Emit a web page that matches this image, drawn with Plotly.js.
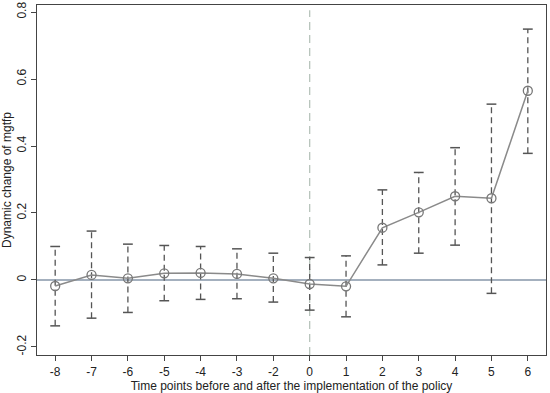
<!DOCTYPE html>
<html><head><meta charset="utf-8">
<script src="https://cdn.plot.ly/plotly-3.0.1.min.js"></script>
<style>html,body{margin:0;padding:0;background:#fff}#chart{width:550px;height:393px}</style>
</head><body><div id="chart"></div>
<script>
const periods = ['-8','-7','-6','-5','-4','-3','-2','0','1','2','3','4','5','6'];
const estimate = [-0.018, 0.015, 0.005, 0.020, 0.021, 0.018, 0.005, -0.012, -0.019, 0.156, 0.202, 0.250, 0.244, 0.565];
const ciUpper  = [0.100, 0.146, 0.107, 0.103, 0.100, 0.093, 0.080, 0.067, 0.072, 0.269, 0.321, 0.395, 0.525, 0.749];
const ciLower  = [-0.137, -0.114, -0.097, -0.062, -0.058, -0.056, -0.066, -0.090, -0.110, 0.045, 0.080, 0.104, -0.040, 0.378];
const yTicks = [-0.2, 0, 0.2, 0.4, 0.6, 0.8];
const yTickText = ['-0.2', '0', '0.2', '0.4', '0.6', '0.8'];
const policyPeriod = '0';

const segX = [], segY = [];
periods.forEach((p, i) => { segX.push(p, p, null); segY.push(ciLower[i], ciUpper[i], null); });
const capX = periods.concat(periods);
const capY = ciLower.concat(ciUpper);

const traces = [
  {x: segX, y: segY, type: 'scatter', mode: 'lines', line: {color: '#555', width: 1.3, dash: '6px,4px'}, hoverinfo: 'skip'},
  {x: capX, y: capY, type: 'scatter', mode: 'markers', marker: {symbol: 'line-ew-open', size: 7, color: '#555', line: {color: '#555', width: 1.5}}, hoverinfo: 'skip'},
  {x: periods, y: estimate, type: 'scatter', mode: 'lines+markers', line: {color: '#8a8a8a', width: 1.5},
   marker: {symbol: 'circle-open', size: 9, color: '#777', line: {color: '#777', width: 1.3}}}
];

const layout = {
  width: 550, height: 393,
  margin: {l: 37, r: 4, t: 5, b: 38},
  paper_bgcolor: '#fff', plot_bgcolor: '#fff',
  showlegend: false,
  font: {family: 'Liberation Sans, Arial, sans-serif', size: 12, color: '#222'},
  xaxis: {type: 'category', categoryorder: 'array', categoryarray: periods, range: [-0.5, periods.length - 0.5],
    showgrid: false, zeroline: false, showline: true, linecolor: '#444', linewidth: 1.2, mirror: true,
    ticks: 'outside', ticklen: 5, tickcolor: '#444', tickfont: {size: 12},
    title: {text: 'Time points before and after the implementation of the policy', font: {size: 12}, standoff: 2}},
  yaxis: {range: [-0.224, 0.821], tickvals: yTicks, ticktext: yTickText, tickangle: -90,
    showgrid: false, zeroline: false, showline: true, linecolor: '#444', linewidth: 1.2, mirror: true,
    ticks: 'outside', ticklen: 5, tickcolor: '#444', tickfont: {size: 12},
    title: {text: 'Dynamic change of mgtfp', font: {size: 12}, standoff: 4}},
  shapes: [
    {type: 'line', xref: 'paper', x0: 0, x1: 1, yref: 'y', y0: 0, y1: 0, line: {color: '#8696a8', width: 1.3}, layer: 'below'},
    {type: 'line', xref: 'x', x0: periods.indexOf(policyPeriod), x1: periods.indexOf(policyPeriod), yref: 'paper', y0: 0, y1: 0.985,
     line: {color: '#b8c4bc', width: 1.3, dash: '8px,5px'}, layer: 'below'}
  ]
};
Plotly.newPlot('chart', traces, layout, {displayModeBar: false, staticPlot: true});
</script></body></html>
